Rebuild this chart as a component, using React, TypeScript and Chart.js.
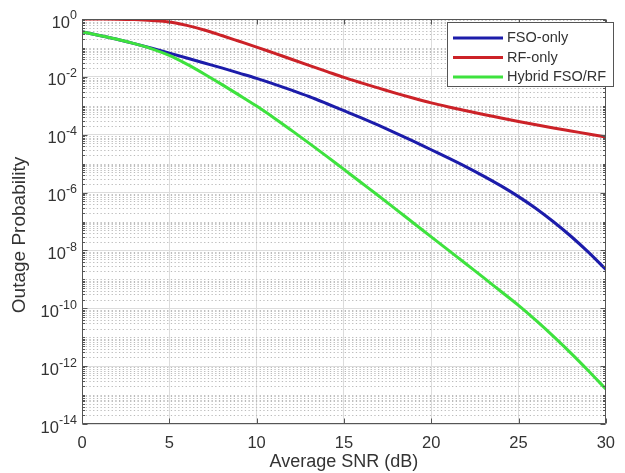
import React, { useEffect, useRef } from "react";
import { Chart, registerables } from "chart.js";

Chart.register(...registerables);

// ---------- data ----------
const snrDb = [0, 1, 2, 3, 4, 5, 6, 7, 8, 9, 10, 11, 12, 13, 14, 15, 16, 17, 18, 19, 20, 21, 22, 23, 24, 25, 26, 27, 28, 29, 30];

const fsoOnly = [
  3.63e-1, 2.69e-1, 2.0e-1, 1.41e-1, 9.77e-2, 6.61e-2, 4.47e-2, 3.02e-2, 2.04e-2, 1.35e-2,
  8.91e-3, 5.62e-3, 3.47e-3, 2.09e-3, 1.2e-3, 6.76e-4, 3.8e-4, 2.09e-4, 1.12e-4, 5.89e-5,
  3.02e-5, 1.55e-5, 7.76e-6, 3.72e-6, 1.7e-6, 7.24e-7, 2.82e-7, 9.77e-8, 3.09e-8, 8.71e-9,
  2.19e-9,
];

const rfOnly = [
  1.0, 0.998, 0.989, 0.955, 0.891, 0.794, 0.603, 0.417, 0.269, 0.17,
  0.107, 6.61e-2, 4.07e-2, 2.51e-2, 1.55e-2, 9.55e-3, 6.17e-3, 4.07e-3, 2.69e-3, 1.82e-3,
  1.26e-3, 9.12e-4, 6.76e-4, 5.01e-4, 3.8e-4, 2.88e-4, 2.21e-4, 1.72e-4, 1.35e-4, 1.06e-4,
  8.32e-5,
];

const hybridFsoRf = [
  3.63e-1, 2.69e-1, 2.0e-1, 1.41e-1, 9.33e-2, 5.5e-2, 2.75e-2, 1.26e-2, 5.5e-3, 2.34e-3,
  9.77e-4, 3.8e-4, 1.41e-4, 5.13e-5, 1.82e-5, 6.31e-6, 2.19e-6, 7.59e-7, 2.57e-7, 8.71e-8,
  2.95e-8, 1.0e-8, 3.39e-9, 1.15e-9, 3.8e-10, 1.26e-10, 3.8e-11, 1.07e-11, 2.82e-12, 6.92e-13,
  1.62e-13,
];

const seriesLabels = ["FSO-only", "RF-only", "Hybrid FSO/RF"];
const seriesColors = ["#1c1caa", "#cc2228", "#3ee23e"];

const xTicks = [0, 5, 10, 15, 20, 25, 30];
const yTickExponents = [0, -2, -4, -6, -8, -10, -12, -14];
const minorMultipliers = [2, 3, 4, 5, 6, 7, 8, 9];

const xTitle = "Average SNR (dB)";
const yTitle = "Outage Probability";

const FONT = "'Liberation Sans', Arial, Helvetica, sans-serif";
const TEXT = "#333333";
const AXIS = "#555555";

const decorPlugin = {
  id: "decor",
  beforeDatasetsDraw(chart: any) {
    const { ctx, chartArea: a, scales } = chart;
    const y = scales.y;
    ctx.save();
    ctx.beginPath();
    ctx.rect(a.left, a.top, a.right - a.left, a.bottom - a.top);
    ctx.clip();
    ctx.setLineDash([1.3, 2.4]);
    ctx.strokeStyle = "#bcbcbc";
    ctx.lineWidth = 1;
    ctx.beginPath();
    const minE = yTickExponents[yTickExponents.length - 1];
    const maxE = yTickExponents[0];
    for (let e = minE; e < maxE; e++) {
      const mults = [1, ...minorMultipliers];
      for (const k of mults) {
        if (k === 1 && yTickExponents.includes(e)) continue;
        const v = k * Math.pow(10, e);
        const py = Math.round(y.getPixelForValue(v)) + 0.5;
        ctx.moveTo(a.left, py);
        ctx.lineTo(a.right, py);
      }
    }
    ctx.stroke();
    ctx.restore();
  },
  afterDatasetsDraw(chart: any) {
    const { ctx, chartArea: a, scales } = chart;
    const x = scales.x;
    const y = scales.y;
    ctx.save();
    ctx.strokeStyle = AXIS;
    ctx.lineWidth = 1;
    ctx.setLineDash([]);
    const L = Math.round(a.left) + 0.5;
    const R = Math.round(a.right) - 0.5;
    const T = Math.round(a.top) + 0.5;
    const B = Math.round(a.bottom) - 0.5;
    ctx.beginPath();
    ctx.rect(L, T, R - L, B - T);
    for (const t of xTicks) {
      const px = Math.round(x.getPixelForValue(t)) + 0.5;
      ctx.moveTo(px, B);
      ctx.lineTo(px, B - 5);
      ctx.moveTo(px, T);
      ctx.lineTo(px, T + 5);
    }
    const minE = yTickExponents[yTickExponents.length - 1];
    const maxE = yTickExponents[0];
    for (let e = minE; e <= maxE; e++) {
      const mults = e === maxE ? [1] : [1, ...minorMultipliers];
      for (const k of mults) {
        const v = k * Math.pow(10, e);
        const major = k === 1 && yTickExponents.includes(e);
        const len = major ? 5 : 2.5;
        const py = Math.round(y.getPixelForValue(v)) + 0.5;
        ctx.moveTo(L, py);
        ctx.lineTo(L + len, py);
        ctx.moveTo(R, py);
        ctx.lineTo(R - len, py);
      }
    }
    ctx.stroke();
    ctx.restore();
  },
  afterDraw(chart: any) {
    const { ctx, scales } = chart;
    const y = scales.y;
    ctx.save();
    ctx.fillStyle = TEXT;
    const right = 77;
    for (const e of yTickExponents) {
      const py = y.getPixelForValue(Math.pow(10, e));
      const expStr = String(e);
      ctx.font = `12.5px ${FONT}`;
      const ew = ctx.measureText(expStr).width;
      ctx.font = `16.5px ${FONT}`;
      const bw = ctx.measureText("10").width;
      ctx.textAlign = "left";
      ctx.textBaseline = "middle";
      ctx.fillText("10", right - ew - bw, py + 4);
      ctx.font = `12.5px ${FONT}`;
      ctx.fillText(expStr, right - ew, py - 3);
    }
    ctx.save();
    ctx.translate(19.5, 235);
    ctx.rotate(-Math.PI / 2);
    ctx.font = `19px ${FONT}`;
    ctx.textAlign = "center";
    ctx.textBaseline = "middle";
    ctx.fillText(yTitle, 0, 0);
    ctx.restore();

    const bx = 447.5, by = 22.5, bw2 = 166, bh = 64;
    ctx.fillStyle = "#ffffff";
    ctx.fillRect(bx, by, bw2, bh);
    ctx.strokeStyle = AXIS;
    ctx.lineWidth = 1;
    ctx.strokeRect(bx, by, bw2, bh);
    const rows = [38, 57.5, 77];
    chart.data.datasets.forEach((ds: any, i: number) => {
      const ry = rows[i];
      ctx.strokeStyle = ds.borderColor;
      ctx.lineWidth = 3;
      ctx.beginPath();
      ctx.moveTo(453, ry);
      ctx.lineTo(503, ry);
      ctx.stroke();
      ctx.fillStyle = TEXT;
      ctx.font = `14.5px ${FONT}`;
      ctx.textAlign = "left";
      ctx.textBaseline = "middle";
      ctx.fillText(ds.label, 507, ry);
    });
    ctx.restore();
  },
};

export default function App() {
  const canvasRef = useRef<HTMLCanvasElement | null>(null);

  useEffect(() => {
    const canvas = canvasRef.current;
    if (!canvas) return;
    const seriesValues = [fsoOnly, rfOnly, hybridFsoRf];
    const chart = new Chart(canvas, {
      type: "line",
      data: {
        datasets: seriesValues.map((vals, i) => ({
          label: seriesLabels[i],
          data: snrDb.map((s, j) => ({ x: s, y: vals[j] })),
          borderColor: seriesColors[i],
          backgroundColor: seriesColors[i],
          borderWidth: 3,
          pointRadius: 0,
          cubicInterpolationMode: "monotone" as const,
          order: i === 2 ? -1 : i,
        })),
      },
      options: {
        responsive: false,
        animation: false,
        devicePixelRatio: 1,
        layout: { padding: { top: 19, right: 8, left: 0, bottom: 0 } },
        plugins: {
          legend: { display: false },
          tooltip: { enabled: false },
        },
        scales: {
          x: {
            type: "linear",
            min: 0,
            max: 30,
            afterBuildTicks: (scale: any) => {
              scale.ticks = xTicks.map((v) => ({ value: v }));
            },
            afterFit: (scale: any) => {
              scale.height = 49;
            },
            ticks: {
              color: TEXT,
              font: { family: FONT, size: 16.5 },
              padding: 10,
              maxRotation: 0,
              autoSkip: false,
            },
            grid: { color: "#dcdcdc", lineWidth: 1, drawTicks: false },
            border: { display: false },
            title: {
              display: true,
              text: xTitle,
              color: TEXT,
              font: { family: FONT, size: 18 },
              padding: { top: 0, bottom: 0 },
            },
          },
          y: {
            type: "logarithmic",
            min: 1e-14,
            max: 1,
            afterBuildTicks: (scale: any) => {
              scale.ticks = yTickExponents.map((e) => ({ value: Math.pow(10, e) }));
            },
            afterFit: (scale: any) => {
              scale.width = 82;
            },
            ticks: { display: false },
            grid: { color: "#dcdcdc", lineWidth: 1, drawTicks: false },
            border: { display: false },
          },
        },
      },
      plugins: [decorPlugin],
    });
    return () => chart.destroy();
  }, []);

  return (
    <div style={{ position: "absolute", left: 0, top: 0, width: 625, height: 473, background: "#ffffff" }}>
      <canvas ref={canvasRef} width={625} height={473} />
    </div>
  );
}
